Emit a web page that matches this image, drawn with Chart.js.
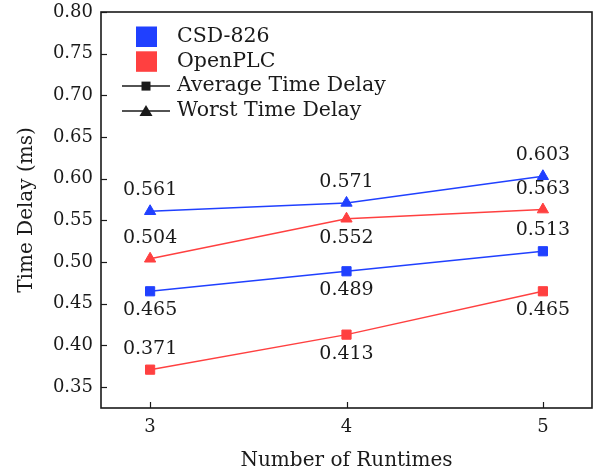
<!DOCTYPE html>
<html>
<head>
<meta charset="utf-8">
<script src="https://cdn.jsdelivr.net/npm/chart.js@4"></script>
<style>
  html, body { margin: 0; padding: 0; background: #fff; }
</style>
</head>
<body>
<canvas id="delayChart" width="600" height="475"></canvas>
<script>
// data
const runtimes = [3, 4, 5];
const csdAverage = [0.465, 0.489, 0.513];
const csdWorst = [0.561, 0.571, 0.603];
const openplcAverage = [0.371, 0.413, 0.465];
const openplcWorst = [0.504, 0.552, 0.563];
const yTickValues = [0.35, 0.40, 0.45, 0.50, 0.55, 0.60, 0.65, 0.70, 0.75, 0.80];
const deviceNames = ['CSD-826', 'OpenPLC'];
const metricNames = ['Average Time Delay', 'Worst Time Delay'];

const BLUE = 'rgb(32, 64, 255)';
const RED = 'rgb(255, 64, 64)';
const FONT = '"DejaVu Serif", "Liberation Serif", serif';
const INK = '#1a1a1a';

function makeSeries(values, color, style, labelSide) {
    return {
        data: values.map((v, i) => ({ x: runtimes[i], y: v })),
        borderColor: color,
        backgroundColor: color,
        borderWidth: 1.5,
        pointStyle: style,
        pointRadius: 6.5,
        pointBorderWidth: 1,
        labelSide: labelSide
    };
}

// inward tick marks + full frame
const framePlugin = {
    id: 'frame',
    afterDraw(chart) {
        const { ctx, chartArea: a, scales } = chart;
        ctx.save();
        ctx.strokeStyle = INK;
        ctx.lineWidth = 1.2;
        scales.x.ticks.forEach(t => {
            const x = Math.round(scales.x.getPixelForValue(t.value)) + 0.5;
            ctx.beginPath();
            ctx.moveTo(x, a.bottom);
            ctx.lineTo(x, a.bottom - 6);
            ctx.stroke();
        });
        scales.y.ticks.forEach(t => {
            const y = Math.round(scales.y.getPixelForValue(t.value)) + 0.5;
            ctx.beginPath();
            ctx.moveTo(a.left, y);
            ctx.lineTo(a.left + 6, y);
            ctx.stroke();
        });
        ctx.lineWidth = 1.6;
        ctx.strokeRect(a.left, a.top, a.right - a.left, a.bottom - a.top);
        ctx.restore();
    }
};

// value labels above / below each point
const valueLabelPlugin = {
    id: 'valueLabels',
    afterDatasetsDraw(chart) {
        const { ctx } = chart;
        ctx.save();
        ctx.font = '19px ' + FONT;
        ctx.fillStyle = INK;
        ctx.textAlign = 'center';
        ctx.textBaseline = 'middle';
        chart.data.datasets.forEach((ds, di) => {
            const meta = chart.getDatasetMeta(di);
            meta.data.forEach((pt, i) => {
                const dy = ds.labelSide[i] === 'above' ? -21 : 19;
                ctx.fillText(ds.data[i].y.toFixed(3), pt.x, pt.y + dy);
            });
        });
        ctx.restore();
    }
};

// legend drawn inside the plot, top-left
const legendPlugin = {
    id: 'innerLegend',
    afterDraw(chart) {
        const { ctx, chartArea: a } = chart;
        const rowH = 24.8;
        const y0 = a.top + 24.5;
        const textX = a.left + 76;
        ctx.save();
        ctx.font = '20.5px ' + FONT;
        ctx.fillStyle = INK;
        ctx.textBaseline = 'middle';
        [BLUE, RED].forEach((c, i) => {
            const y = y0 + i * rowH;
            ctx.fillStyle = c;
            ctx.fillRect(a.left + 35, y - 10, 21, 20.5);
            ctx.fillStyle = INK;
            ctx.fillText(deviceNames[i], textX, y);
        });
        metricNames.forEach((name, i) => {
            const y = y0 + (i + 2) * rowH;
            const cx = a.left + 45;
            ctx.strokeStyle = INK;
            ctx.lineWidth = 1.5;
            ctx.beginPath();
            ctx.moveTo(a.left + 21, y);
            ctx.lineTo(a.left + 69, y);
            ctx.stroke();
            ctx.fillStyle = INK;
            ctx.beginPath();
            if (i === 0) {
                ctx.rect(cx - 4.5, y - 4.5, 9, 9);
            } else {
                ctx.moveTo(cx, y - 6);
                ctx.lineTo(cx + 6.5, y + 5);
                ctx.lineTo(cx - 6.5, y + 5);
                ctx.closePath();
            }
            ctx.fill();
            ctx.fillText(name, textX, y);
        });
        ctx.restore();
    }
};

const ctx = document.getElementById('delayChart').getContext('2d');
new Chart(ctx, {
    type: 'line',
    data: {
        datasets: [
            makeSeries(csdWorst, BLUE, 'triangle', ['above', 'above', 'above']),
            makeSeries(openplcWorst, RED, 'triangle', ['above', 'below', 'above']),
            makeSeries(csdAverage, BLUE, 'rect', ['below', 'below', 'above']),
            makeSeries(openplcAverage, RED, 'rect', ['above', 'below', 'below'])
        ]
    },
    options: {
        responsive: false,
        animation: false,
        devicePixelRatio: 1,
        layout: { padding: { top: 12, right: 8, left: 0, bottom: 0 } },
        plugins: {
            legend: { display: false },
            tooltip: { enabled: false }
        },
        scales: {
            x: {
                type: 'linear',
                min: 2.75,
                max: 5.25,
                afterBuildTicks: s => { s.ticks = runtimes.map(v => ({ value: v })); },
                afterFit: s => {
                    s.height = 67;
                    s.paddingLeft = 0;
                    s.paddingRight = 0;
                },
                grid: { display: false, drawTicks: false },
                border: { display: false },
                ticks: {
                    padding: 9,
                    color: INK,
                    font: { family: FONT, size: 18 },
                    callback: v => String(v)
                },
                title: {
                    display: true,
                    text: 'Number of Runtimes',
                    color: INK,
                    font: { family: FONT, size: 20 },
                    padding: { top: 0, bottom: 2 }
                }
            },
            y: {
                min: 0.325,
                max: 0.80,
                afterBuildTicks: s => { s.ticks = yTickValues.map(v => ({ value: v })); },
                afterFit: s => {
                    s.width = 101;
                    s.paddingTop = 0;
                    s.paddingBottom = 0;
                },
                grid: { display: false, drawTicks: false },
                border: { display: false },
                ticks: {
                    padding: 8,
                    color: INK,
                    font: { family: FONT, size: 18 },
                    callback: v => Number(v).toFixed(2)
                },
                title: {
                    display: true,
                    text: 'Time Delay (ms)',
                    color: INK,
                    font: { family: FONT, size: 20 },
                    padding: { top: 15, bottom: 0 }
                }
            }
        }
    },
    plugins: [framePlugin, valueLabelPlugin, legendPlugin]
});
</script>
</body>
</html>
